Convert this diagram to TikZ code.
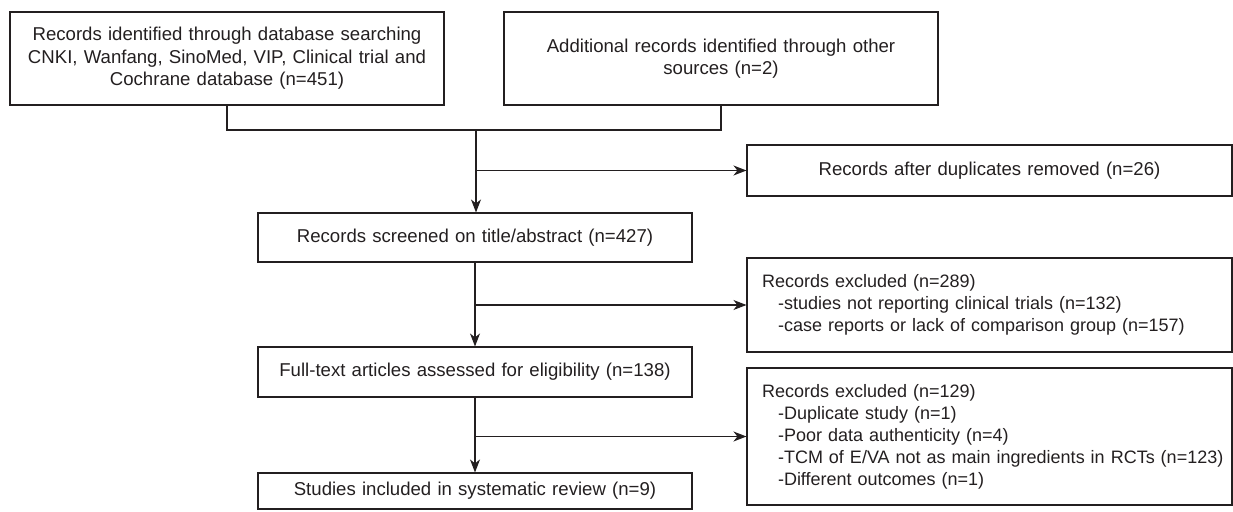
\documentclass[tikz,border=0pt]{standalone}
\usepackage{fontspec}
\setmainfont{Liberation Sans}
\usetikzlibrary{arrows.meta}
\definecolor{inkgray}{RGB}{35,31,32}
\newcommand{\notepad}{\hspace*{15pt}}
\newcommand{\reasonindent}{\hspace*{31pt}}

\begin{document}
\begin{tikzpicture}[x=1pt, y=1pt,
    every node/.style={font=\fontsize{18.6}{22.5}\selectfont, text=inkgray},
    box/.style={draw=inkgray, line width=1.1pt, rectangle, inner sep=0pt, align=center},
    notebox/.style={box, text width=485pt, align=left, font=\fontsize{18}{22}\selectfont},
    link/.style={draw=inkgray, line width=1.1pt},
    arr/.style={link, -{Stealth[length=13pt, width=10pt, inset=4pt]}}]
    \useasboundingbox (0,0) rectangle (1233,-511);
    \node[box, text width=434pt, minimum height=93pt] (found) at (227,-58.5) {Records identified through database searching\\CNKI, Wanfang, SinoMed, VIP, Clinical trial and\\Cochrane database (n=451)};
    \node[box, text width=434pt, minimum height=93pt] (other) at (721,-58.5) {Additional records identified through other\\sources (n=2)};
    \node[box, text width=485pt, minimum height=51pt] (dup) at (989.5,-170.5) {Records after duplicates removed (n=26)};
    \node[box, text width=434pt, minimum height=49pt] (screen) at (475,-237.5) {Records screened on title/abstract (n=427)};
    \node[notebox, minimum height=94pt] (excl1) at (989.5,-305) {\notepad Records excluded (n=289)\\\reasonindent-studies not reporting clinical trials (n=132)\\\reasonindent-case reports or lack of comparison group (n=157)};
    \node[box, text width=434pt, minimum height=50pt] (full) at (475,-372) {Full-text articles assessed for eligibility (n=138)};
    \node[notebox, minimum height=137pt] (excl2) at (989.5,-436.5) {\notepad Records excluded (n=129)\\\reasonindent-Duplicate study (n=1)\\\reasonindent-Poor data authenticity (n=4)\\\reasonindent\mbox{-TCM of E/VA not as main ingredients in RCTs (n=123)}\\\reasonindent-Different outcomes (n=1)};
    \node[box, text width=434pt, minimum height=36pt] (incl) at (475,-491) {Studies included in systematic review (n=9)};

    \coordinate (merge) at (476,-130);
    \draw[link] (found.south) |- (merge) -| (other.south);
    \draw[arr] (merge) -- (merge |- screen.north);
    \draw[arr] (merge |- dup.west) -- (dup.west);
    \draw[arr] (screen.south) -- (full.north);
    \draw[arr] (screen.south |- excl1.west) -- (excl1.west);
    \draw[arr] (full.south) -- (incl.north);
    \draw[arr] (full.south |- excl2.west) -- (excl2.west);
\end{tikzpicture}
\end{document}
